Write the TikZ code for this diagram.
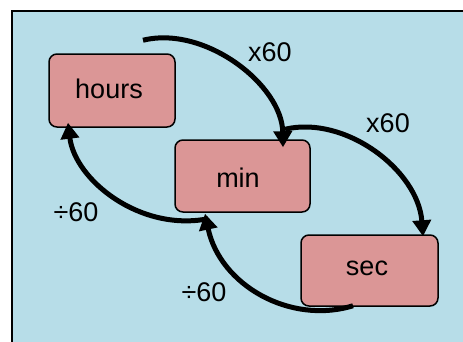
\documentclass[tikz,border=0pt]{standalone}
\usepackage{fontspec}
\setmainfont{Liberation Sans}
\usetikzlibrary{arrows.meta,calc}
\definecolor{bgblue}{RGB}{183,221,232}
\definecolor{boxred}{RGB}{219,150,150}
\tikzset{
  unitbox/.style={draw=black,line width=1.5pt,fill=boxred,rounded corners=8pt,inner sep=0pt},
  conv/.style={line width=5pt,-{Triangle[length=16pt,width=18pt]}},
  lbl/.style={inner sep=0pt,font=\fontsize{27}{32}\selectfont}
}
\begin{document}
\begin{tikzpicture}[x=1pt,y=-1pt]
\useasboundingbox (0,0) rectangle (463,341);
\clip (0,0) rectangle (463,341);
\draw[line width=2pt,fill=bgblue] (11.5,10.5) rectangle (480,360);
\node[unitbox,minimum width=126pt,minimum height=73pt] (hours) at (112,90.5) {};
\node[lbl] (thours) at (109,89) {hours};
\node[unitbox,minimum width=135pt,minimum height=72pt] (min) at (242.5,176) {};
\node[lbl] (tmin) at (238,178) {min};
\node[unitbox,minimum width=137pt,minimum height=71pt] (sec) at (369.5,270.5) {};
\node[lbl] (tsec) at (367,268) {sec};
\coordinate (s1) at ($(hours.north)+(31,-13)$);
\draw[conv] (s1) .. controls (205,25) and (282,85) .. ($(min.north)+(40.5,8)$);
\draw[conv] ($(min.north)+(42.5,-10)$) .. controls (345,115) and (418,170) .. ($(sec.north)+(53.5,2)$);
\draw[conv] ($(min.south)+(-34.5,6)$) .. controls (140,232) and (75,180) .. ($(hours.south)+(-44,-5)$);
\draw[conv] ($(sec.south)+(-16.5,-1)$) .. controls (290,325) and (220,285) .. ($(min.south)+(-37.5,1)$);
\node[lbl] (l1) at (270,52) {x60};
\node[lbl] (l2) at (388,123) {x60};
\node[lbl] (l3) at (76,212) {÷60};
\node[lbl] (l4) at (204,292) {÷60};
\end{tikzpicture}
\end{document}
